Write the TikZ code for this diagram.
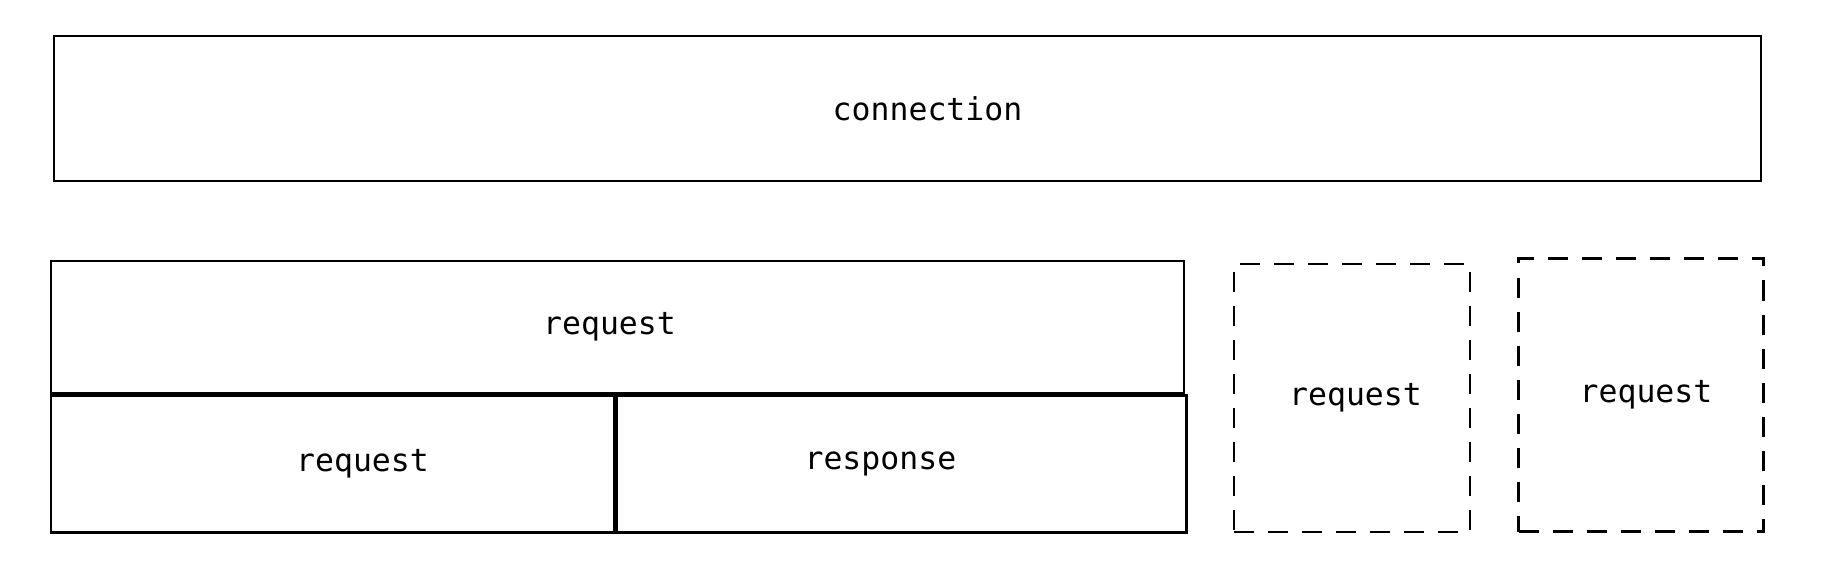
\documentclass[tikz,border=0pt]{standalone}
\usepackage{fontspec}
\setmonofont{DejaVu Sans Mono}
\usetikzlibrary{positioning}
\begin{document}
\begin{tikzpicture}[x=1pt, y=-1pt, line width=2.4pt,
  box/.style={draw, rectangle, inner sep=0pt, font=\ttfamily\fontsize{31.5}{31.5}\selectfont},
  ghost/.style={box, dashed, dash pattern=on 20pt off 14pt}]
\useasboundingbox (0,0) rectangle (1824,564);
\node[box, minimum width=1707pt, minimum height=145pt] (conn) at (907.5,108.5) {\hspace*{40pt}connection};
\node[box, minimum width=1133pt, minimum height=132pt] (req) at (617.5,327) {request\hspace*{16pt}};
\node[box, minimum width=563pt, minimum height=137pt, below right=0pt and 0pt of req.south west, anchor=north west] (subreq) {\hspace*{60pt}request};
\node[box, minimum width=570pt, minimum height=137pt, right=0pt of subreq] (resp) {response\hspace*{42pt}};
\node[ghost, minimum width=236pt, minimum height=268pt] (req2) at (1352,398) {\hspace*{7pt}request};
\node[ghost, minimum width=245pt, minimum height=273pt] (req3) at (1641,395) {\hspace*{10pt}request};
\end{tikzpicture}
\end{document}
